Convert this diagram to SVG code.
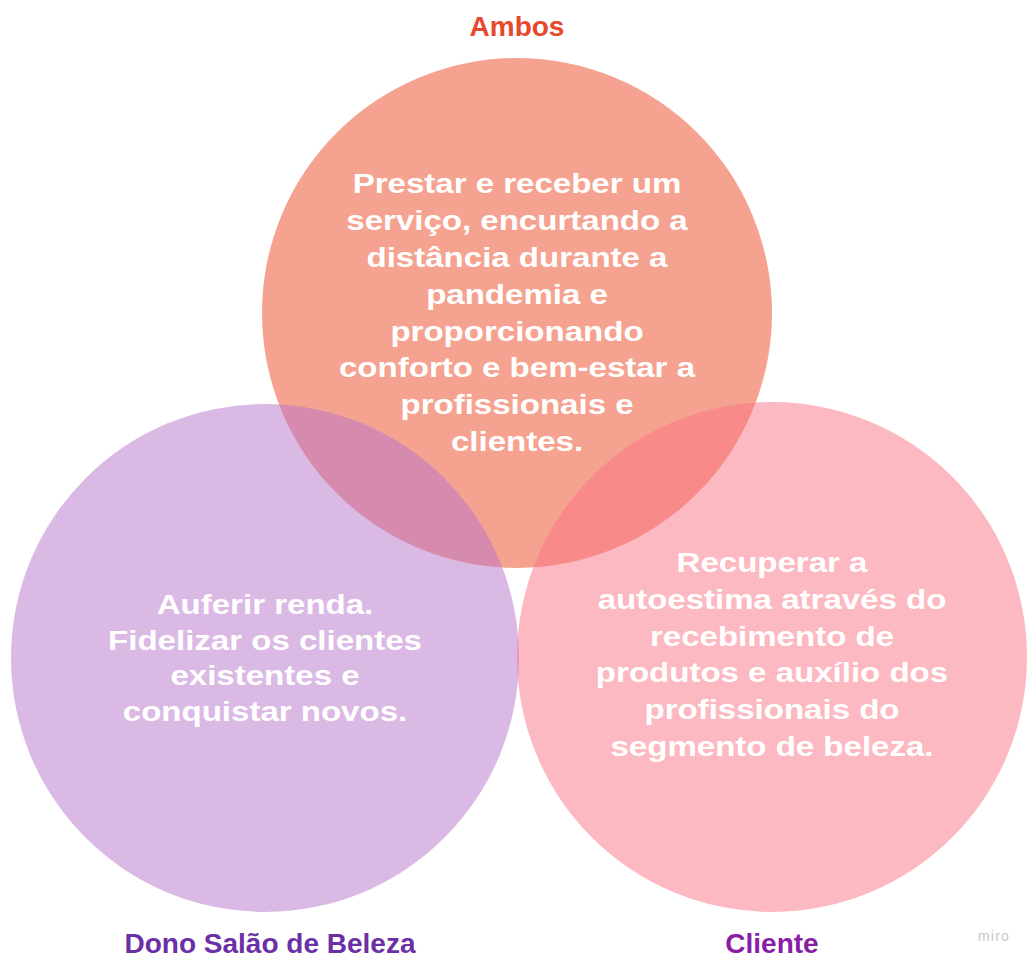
<svg xmlns="http://www.w3.org/2000/svg" width="1035" height="966" viewBox="0 0 1035 966">
<style>
.body{font-family:"Liberation Sans",Arial,sans-serif;font-weight:bold;font-size:28px;fill:#ffffff;text-anchor:middle}
.lbl{font-family:"Liberation Sans",Arial,sans-serif;font-weight:bold;font-size:28px;text-anchor:middle}
</style>
<rect width="1035" height="966" fill="#ffffff"/>
<g id="connectors"/>
<g id="ambos">
<circle cx="517" cy="313" r="255" fill="#F5A390"/>
<text class="lbl" x="517" y="36" fill="#E8482B">Ambos</text>
<g transform="translate(517,0) scale(1.18,1)">
<text class="body" x="0" y="193">Prestar e receber um</text>
<text class="body" x="0" y="230">serviço, encurtando a</text>
<text class="body" x="0" y="267">distância durante a</text>
<text class="body" x="0" y="304">pandemia e</text>
<text class="body" x="0" y="341">proporcionando</text>
<text class="body" x="0" y="377">conforto e bem-estar a</text>
<text class="body" x="0" y="414">profissionais e</text>
<text class="body" x="0" y="451">clientes.</text>
</g>
</g>
<g id="dono">
<circle cx="265" cy="658" r="254" fill="#B773CB" fill-opacity="0.5"/>
<text class="lbl" x="270" y="953" fill="#6B2FA6">Dono Salão de Beleza</text>
<g transform="translate(265,0) scale(1.18,1)">
<text class="body" x="0" y="614">Auferir renda.</text>
<text class="body" x="0" y="650">Fidelizar os clientes</text>
<text class="body" x="0" y="685">existentes e</text>
<text class="body" x="0" y="721">conquistar novos.</text>
</g>
</g>
<g id="cliente">
<circle cx="772" cy="657" r="255" fill="#FB7383" fill-opacity="0.5"/>
<text class="lbl" x="772" y="953" fill="#8A1DA6">Cliente</text>
<g transform="translate(772,0) scale(1.18,1)">
<text class="body" x="0" y="572">Recuperar a</text>
<text class="body" x="0" y="609">autoestima através do</text>
<text class="body" x="0" y="646">recebimento de</text>
<text class="body" x="0" y="682">produtos e auxílio dos</text>
<text class="body" x="0" y="719">profissionais do</text>
<text class="body" x="0" y="756">segmento de beleza.</text>
</g>
</g>
<text x="994" y="941" font-family="Liberation Sans, Arial, sans-serif" font-size="14" letter-spacing="1.2" fill="#C8C8C8" text-anchor="middle">miro</text>
</svg>
